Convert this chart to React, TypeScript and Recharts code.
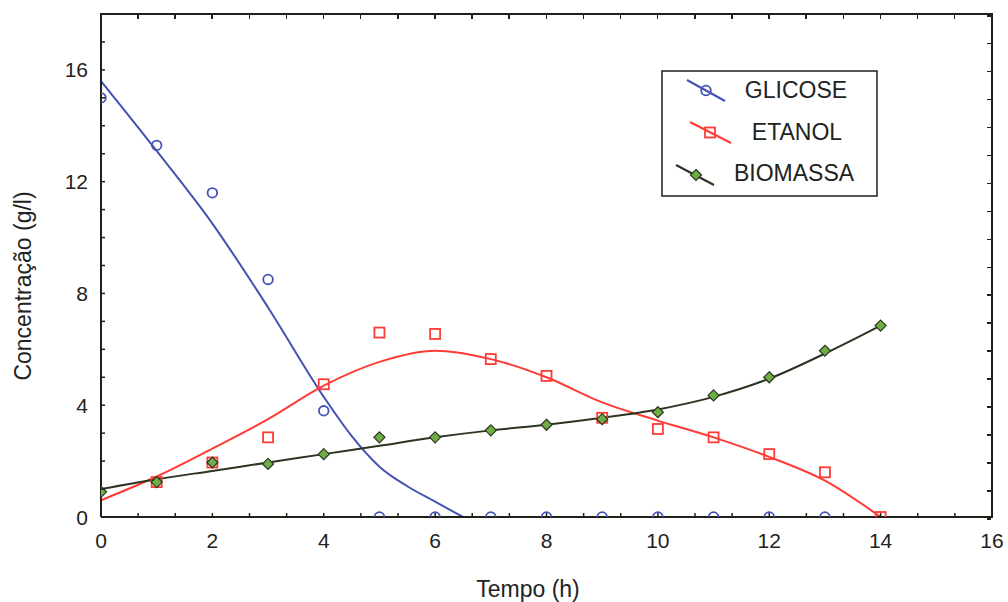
import {
  ComposedChart,
  Line,
  Scatter,
  XAxis,
  YAxis,
  Legend,
} from "recharts";

// measured points
const glicosePts = [
  { t: 0, v: 15.0 },
  { t: 1, v: 13.3 },
  { t: 2, v: 11.6 },
  { t: 3, v: 8.5 },
  { t: 4, v: 3.8 },
  { t: 5, v: 0 },
  { t: 6, v: 0 },
  { t: 7, v: 0 },
  { t: 8, v: 0 },
  { t: 9, v: 0 },
  { t: 10, v: 0 },
  { t: 11, v: 0 },
  { t: 12, v: 0 },
  { t: 13, v: 0 },
];

const etanolPts = [
  { t: 1, v: 1.25 },
  { t: 2, v: 1.95 },
  { t: 3, v: 2.85 },
  { t: 4, v: 4.75 },
  { t: 5, v: 6.6 },
  { t: 6, v: 6.55 },
  { t: 7, v: 5.65 },
  { t: 8, v: 5.05 },
  { t: 9, v: 3.55 },
  { t: 10, v: 3.15 },
  { t: 11, v: 2.85 },
  { t: 12, v: 2.25 },
  { t: 13, v: 1.6 },
  { t: 14, v: 0 },
];

const biomassaPts = [
  { t: 0, v: 0.9 },
  { t: 1, v: 1.25 },
  { t: 2, v: 1.95 },
  { t: 3, v: 1.9 },
  { t: 4, v: 2.25 },
  { t: 5, v: 2.85 },
  { t: 6, v: 2.85 },
  { t: 7, v: 3.1 },
  { t: 8, v: 3.3 },
  { t: 9, v: 3.5 },
  { t: 10, v: 3.75 },
  { t: 11, v: 4.35 },
  { t: 12, v: 5.0 },
  { t: 13, v: 5.95 },
  { t: 14, v: 6.85 },
];

// fitted curves
const glicoseFit = [
  { t: 0, v: 15.6 },
  { t: 1, v: 13.1 },
  { t: 2, v: 10.5 },
  { t: 3, v: 7.5 },
  { t: 4, v: 4.3 },
  { t: 4.5, v: 2.9 },
  { t: 5, v: 1.8 },
  { t: 5.5, v: 1.1 },
  { t: 6, v: 0.55 },
  { t: 6.5, v: 0 },
];

const etanolFit = [
  { t: 0, v: 0.6 },
  { t: 1, v: 1.45 },
  { t: 2, v: 2.45 },
  { t: 3, v: 3.5 },
  { t: 4, v: 4.7 },
  { t: 5, v: 5.55 },
  { t: 6, v: 5.95 },
  { t: 7, v: 5.65 },
  { t: 8, v: 5.0 },
  { t: 9, v: 4.1 },
  { t: 10, v: 3.45 },
  { t: 11, v: 2.85 },
  { t: 12, v: 2.15 },
  { t: 13, v: 1.3 },
  { t: 14, v: 0 },
];

const biomassaFit = [
  { t: 0, v: 1.0 },
  { t: 1, v: 1.35 },
  { t: 2, v: 1.65 },
  { t: 3, v: 1.95 },
  { t: 4, v: 2.25 },
  { t: 5, v: 2.55 },
  { t: 6, v: 2.85 },
  { t: 7, v: 3.1 },
  { t: 8, v: 3.3 },
  { t: 9, v: 3.55 },
  { t: 10, v: 3.85 },
  { t: 11, v: 4.3 },
  { t: 12, v: 4.95 },
  { t: 13, v: 5.85 },
  { t: 14, v: 6.85 },
];

const X_MAX = 16;
const Y_MAX = 18;
const xTicks = Array.from({ length: 25 }, (_, i) => (i * 2) / 3);
const yTicks = Array.from({ length: 19 }, (_, i) => i);
const xLabels = [0, 2, 4, 6, 8, 10, 12, 14, 16];
const yLabels = [0, 4, 8, 12, 16];

// layout
const W = 1008;
const H = 602;
const MARGIN = { top: 14, right: 16, bottom: 0, left: 0 };
const X_AXIS_H = 85;
const Y_AXIS_W = 101;
const PLOT_W = W - MARGIN.left - MARGIN.right - Y_AXIS_W;
const PLOT_H = H - MARGIN.top - MARGIN.bottom - X_AXIS_H;
const PLOT_L = MARGIN.left + Y_AXIS_W;
const PLOT_T = MARGIN.top;

const AXIS = "#1f2018";
const BLUE = "#4352b4";
const RED = "#ff3b35";
const GREEN_LINE = "#2c3522";
const GREEN = "#6fae45";
const FONT = "'Liberation Sans', Arial, sans-serif";

const isLabel = (v: number, list: number[]) =>
  list.some((l) => Math.abs(l - v) < 1e-6);

const BottomTick = ({ x, y, payload }: any) => {
  const v = payload.value;
  return (
    <g>
      <line x1={x} y1={y} x2={x} y2={y - 4} stroke={AXIS} strokeWidth={1.5} />
      {isLabel(v, xLabels) && (
        <text x={x} y={y + 31} textAnchor="middle" fontSize={21} fontFamily={FONT} fill="#222">
          {Math.round(v)}
        </text>
      )}
    </g>
  );
};

const LeftTick = ({ x, y, payload }: any) => {
  const v = payload.value;
  return (
    <g>
      <line x1={x} y1={y} x2={x + 4} y2={y} stroke={AXIS} strokeWidth={1.5} />
      {isLabel(v, yLabels) && (
        <text x={x - 13} y={y + 7.5} textAnchor="end" fontSize={21} fontFamily={FONT} fill="#222">
          {v}
        </text>
      )}
    </g>
  );
};

// box frame over the plot area (top and right edges with inward ticks)
const Frame = () => (
  <div
    style={{
      position: "absolute",
      left: PLOT_L - 1,
      top: PLOT_T - 1,
      width: PLOT_W,
      height: PLOT_H,
      borderTop: `2px solid ${AXIS}`,
      borderRight: `2px solid ${AXIS}`,
      pointerEvents: "none",
      zIndex: 5,
    }}
  >
    {xTicks.map((v) => (
      <div
        key={`tx${v}`}
        style={{
          position: "absolute",
          left: (v / X_MAX) * PLOT_W,
          top: 0,
          width: 1.5,
          height: 4,
          background: AXIS,
        }}
      />
    ))}
    {yTicks.map((v) => (
      <div
        key={`ty${v}`}
        style={{
          position: "absolute",
          right: 0,
          top: PLOT_H - (v / Y_MAX) * PLOT_H,
          width: 4,
          height: 1.5,
          background: AXIS,
        }}
      />
    ))}
  </div>
);

const Circle = ({ cx, cy }: any) => (
  <circle cx={cx} cy={cy} r={4.8} fill="none" stroke={BLUE} strokeWidth={1.8} />
);

const Square = ({ cx, cy }: any) => (
  <rect x={cx - 5} y={cy - 5} width={10} height={10} fill="none" stroke={RED} strokeWidth={1.8} />
);

const Diamond = ({ cx, cy }: any) => (
  <path
    d={`M${cx},${cy - 5.5}L${cx + 5.5},${cy}L${cx},${cy + 5.5}L${cx - 5.5},${cy}Z`}
    fill={GREEN}
    stroke={GREEN_LINE}
    strokeWidth={1.2}
  />
);

const LegendBox = () => (
  <svg width={217} height={127} style={{ display: "block" }}>
    <rect x={1} y={1} width={215} height={125} fill="#fff" stroke={AXIS} strokeWidth={1.5} />
    <line x1={26} y1={10} x2={64} y2={31} stroke={BLUE} strokeWidth={2} />
    <Circle cx={45} cy={20.5} />
    <text x={135} y={28} textAnchor="middle" fontSize={23} fontFamily={FONT} fill="#222">GLICOSE</text>
    <line x1={29} y1={52} x2={70} y2={73} stroke={RED} strokeWidth={2} />
    <Square cx={49} cy={62.5} />
    <text x={136} y={70} textAnchor="middle" fontSize={23} fontFamily={FONT} fill="#222">ETANOL</text>
    <line x1={15} y1={95} x2={53} y2={115} stroke={GREEN_LINE} strokeWidth={2} />
    <Diamond cx={35} cy={105} />
    <text x={133} y={111} textAnchor="middle" fontSize={23} fontFamily={FONT} fill="#222">BIOMASSA</text>
  </svg>
);

export default function App() {
  return (
    <div style={{ position: "absolute", left: 0, top: 0, width: W, height: H, background: "#fff" }}>
      <ComposedChart width={W} height={H} margin={MARGIN}>
        <XAxis
          xAxisId="b"
          type="number"
          dataKey="t"
          domain={[0, X_MAX]}
          ticks={xTicks}
          interval={0}
          allowDataOverflow
          height={X_AXIS_H}
          tickSize={0}
          tickMargin={0}
          tickLine={false}
          tick={<BottomTick />}
          axisLine={{ stroke: AXIS, strokeWidth: 2 }}
          label={{
            content: () => (
              <text x={528} y={597} textAnchor="middle" fontSize={23} fontFamily={FONT} fill="#222">
                Tempo (h)
              </text>
            ),
          }}
        />
        <YAxis
          yAxisId="l"
          type="number"
          domain={[0, Y_MAX]}
          ticks={yTicks}
          interval={0}
          allowDataOverflow
          width={Y_AXIS_W}
          tickSize={0}
          tickMargin={0}
          tickLine={false}
          tick={<LeftTick />}
          axisLine={{ stroke: AXIS, strokeWidth: 2 }}
          label={{
            content: () => (
              <text
                x={31}
                y={286}
                textAnchor="middle"
                fontSize={23}
                fontFamily={FONT}
                fill="#222"
                transform="rotate(-90 31 286)"
              >
                Concentração (g/l)
              </text>
            ),
          }}
        />
        <Legend
          layout="vertical"
          align="center"
          verticalAlign="middle"
          content={() => <LegendBox />}
          wrapperStyle={{ position: "absolute", left: 661, top: 70, width: 217, height: 127 }}
        />

        <Line
          xAxisId="b"
          yAxisId="l"
          data={glicoseFit}
          dataKey="v"
          type="monotone"
          stroke={BLUE}
          strokeWidth={2}
          dot={false}
          isAnimationActive={false}
          legendType="none"
        />
        <Line
          xAxisId="b"
          yAxisId="l"
          data={etanolFit}
          dataKey="v"
          type="monotone"
          stroke={RED}
          strokeWidth={2}
          dot={false}
          isAnimationActive={false}
          legendType="none"
        />
        <Line
          xAxisId="b"
          yAxisId="l"
          data={biomassaFit}
          dataKey="v"
          type="monotone"
          stroke={GREEN_LINE}
          strokeWidth={2}
          dot={false}
          isAnimationActive={false}
          legendType="none"
        />
        <Scatter
          xAxisId="b"
          yAxisId="l"
          name="GLICOSE"
          data={glicosePts}
          dataKey="v"
          shape={<Circle />}
          isAnimationActive={false}
        />
        <Scatter
          xAxisId="b"
          yAxisId="l"
          name="ETANOL"
          data={etanolPts}
          dataKey="v"
          shape={<Square />}
          isAnimationActive={false}
        />
        <Scatter
          xAxisId="b"
          yAxisId="l"
          name="BIOMASSA"
          data={biomassaPts}
          dataKey="v"
          shape={<Diamond />}
          isAnimationActive={false}
        />
      </ComposedChart>
      <Frame />
    </div>
  );
}
